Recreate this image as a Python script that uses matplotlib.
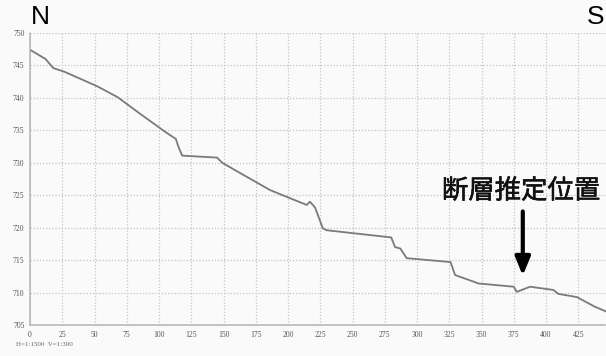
import numpy as np
import matplotlib.pyplot as plt
import matplotlib.patheffects as pe

# ============================
# DATA
# ============================
dist = [1, 12, 18, 27, 52, 68, 85, 106, 113, 115, 118, 145, 149, 186,
        214.5, 217, 221, 227, 230, 280, 283, 287, 292, 326, 329.5, 345,
        347.5, 375, 377.3, 387.6, 405.7, 409.5, 424, 438, 446.5]
elev = [747.3, 746.0, 744.6, 744.0, 741.8, 740.1, 737.6, 734.6, 733.7,
        732.5, 731.1, 730.8, 730.0, 725.8, 723.5, 724.0, 723.1, 719.9,
        719.6, 718.5, 717.0, 716.8, 715.3, 714.7, 712.7, 711.6, 711.4,
        710.9, 710.1, 710.9, 710.4, 709.8, 709.3, 707.8, 707.1]

x_ticks = list(range(0, 426, 25))
y_ticks = list(range(705, 751, 5))

fault_x = 382
fault_label = "断層推定位置"
scale_label = "H=1:1500  V=1:300"

BG = "#fafafa"

# ============================
# PLOT
# ============================
fig = plt.figure(figsize=(6.06, 3.56), dpi=100, facecolor=BG)
ax = fig.add_axes([30 / 606, 31 / 356, 576 / 606, 292 / 356], facecolor=BG)

ax.plot(dist, elev, color="#7a7a7a", lw=1.3, zorder=3)

ax.set_xlim(0, 446.5)
ax.set_ylim(705, 750)
ax.set_xticks(x_ticks)
ax.set_yticks(y_ticks)
ax.tick_params(length=0, pad=4, labelsize=5.5, labelcolor="#555555")
for lab in ax.get_xticklabels() + ax.get_yticklabels():
    lab.set_family("Liberation Serif")

ax.grid(True, color="#c4c4c4", linestyle=(0, (1, 1.5)), linewidth=0.9)
for side in ["top", "right"]:
    ax.spines[side].set_visible(False)
for side in ["left", "bottom"]:
    ax.spines[side].set_color("#b8b8b8")
    ax.spines[side].set_linestyle((0, (1, 1)))
    ax.spines[side].set_linewidth(1.2)

# fault marker
ax.annotate("", xy=(fault_x, 712.6), xytext=(fault_x, 722.5),
            arrowprops=dict(arrowstyle="-|>,head_length=1.1,head_width=0.45",
                            color="black", lw=3, shrinkA=0, shrinkB=0),
            zorder=5)
fig.text(521 / 606, 1 - 191 / 356, fault_label, ha="center", va="center",
         fontsize=19, color="#111111",
         family=["Noto Sans CJK JP", "DejaVu Sans"],
         path_effects=[pe.withStroke(linewidth=0.4, foreground="#111111")])

fig.text(31 / 606, 1 - 17 / 356, "N", ha="left", va="center",
         fontsize=19, family="Liberation Sans")
fig.text(604 / 606, 1 - 17 / 356, "S", ha="right", va="center",
         fontsize=19, family="Liberation Sans")

fig.text(16 / 606, 1 - 345 / 356, scale_label, ha="left", va="center",
         fontsize=5, color="#666666", family="Liberation Serif")

fig.savefig("out.png", dpi=100, facecolor=BG)
